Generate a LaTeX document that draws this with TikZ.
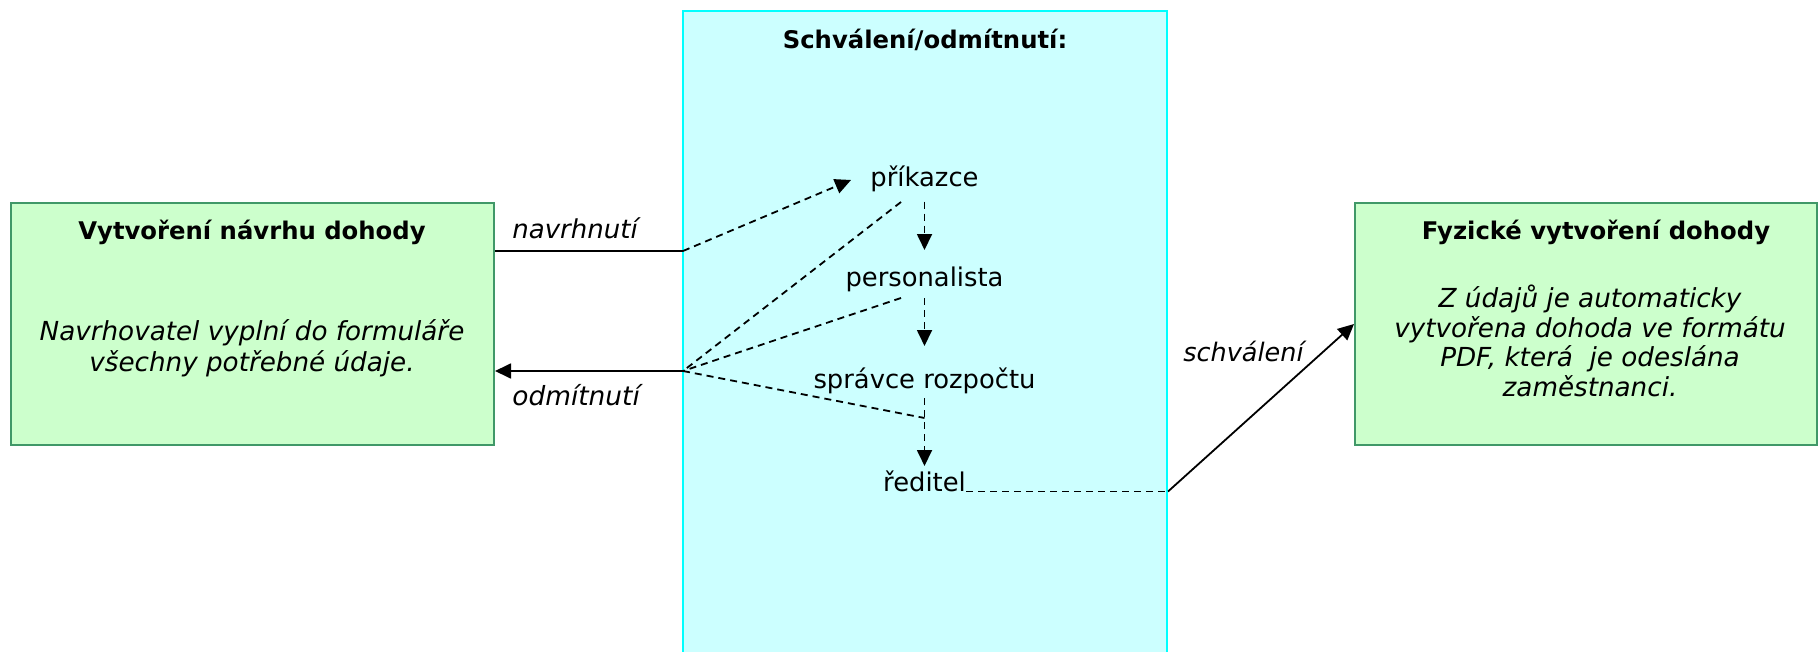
\documentclass[tikz,border=0pt]{standalone}
\usepackage{fontspec}
\setmainfont{DejaVu Sans}
\usetikzlibrary{arrows.meta}

\definecolor{svzelena}{RGB}{204,255,204}
\definecolor{okrajzel}{RGB}{64,152,104}
\definecolor{svazur}{RGB}{204,255,255}
\definecolor{okrajazur}{RGB}{0,255,255}

\tikzset{
	krabice/.style={draw=okrajzel,fill=svzelena,line width=1pt,inner sep=0pt,minimum height=121pt},
	nadpis/.style={inner sep=0pt,anchor=base,font=\bfseries\fontsize{12.15}{14}\selectfont},
	popis/.style={inner sep=0pt,align=center,font=\itshape\fontsize{13.1}{#1}\selectfont},
	role/.style={inner sep=0pt,anchor=base,font=\fontsize{12.9}{15}\selectfont},
	stitek/.style={inner sep=0pt,anchor=base west,font=\itshape\fontsize{#1}{16}\selectfont},
	hrot/.style={-{Triangle[length=8pt,width=7.5pt]}},
	carka/.style={dash pattern=on 3.5pt off 2.5pt},
	spoj/.style={line width=0.9pt}
}

\begin{document}
\begin{tikzpicture}[x=0.5pt,y=-0.5pt]
	\useasboundingbox (0,0) rectangle (1818,652);
	
	%Pole schvalovani
	\node[draw=okrajazur,fill=svazur,line width=1pt,minimum width=242pt,minimum height=325pt] (pole) at (925,336) {};
	\node[nadpis] (schv) at (925,48.5) {Schválení/odmítnutí:};
	
	%Krabice vlevo a vpravo
	\node[krabice,minimum width=241.5pt] (navrh) at (252.5,324) {};
	\node[krabice,minimum width=231pt] (fyz) at (1586,324) {};
	\node[nadpis] (navrhT) at (252,240) {Vytvoření návrhu dohody};
	\node[popis=15.35pt] (navrhP) at (252,348) {Navrhovatel vyplní do formuláře\\všechny potřebné údaje.};
	\node[nadpis] (fyzT) at (1596,240) {Fyzické vytvoření dohody};
	\node[popis=14.9pt] (fyzP) at (1590,341) {Z údajů je automaticky\\vytvořena dohoda ve formátu\\PDF, která\ \ je odeslána\\zaměstnanci.};
	
	%Role
	\node[role] (prik) at (924.5,186.7) {příkazce};
	\node[role] (pers) at (924.5,286) {personalista};
	\node[role] (sprav) at (924.5,388.3) {správce rozpočtu};
	\node[role] (red) at (924.5,491.5) {ředitel};
	
	%Body lomu
	\coordinate (ohyb) at (683,251);
	\coordinate (vetev) at (683,371);
	\coordinate (cil) at (851,180);
	\coordinate (k1) at (901,202);
	\coordinate (k2) at (901,298);
	\coordinate (k3) at (924.5,418);
	\coordinate (lom) at (pole.east |- red.base);
	
	%Navrhnuti
	\draw[spoj] (navrh.east |- ohyb) -- (ohyb);
	\draw[spoj,carka,hrot] (ohyb) -- (cil);
	\node[stitek=13pt] (lnav) at (512,238) {navrhnutí};
	
	%Postup schvalovani
	\draw[spoj,carka,hrot,shorten <=7.5pt,shorten >=18pt] (prik.base) -- (pers.base);
	\draw[spoj,carka,hrot,shorten <=6pt,shorten >=21.15pt] (pers.base) -- (sprav.base);
	\draw[spoj,carka,hrot,shorten <=4.85pt,shorten >=12.75pt] (sprav.base) -- (red.base);
	
	%Odmitnuti
	\draw[spoj,carka] (k1) -- (vetev);
	\draw[spoj,carka] (k2) -- (vetev);
	\draw[spoj,carka] (vetev) -- (k3);
	\draw[spoj,hrot] (vetev) -- (navrh.east |- vetev);
	\node[stitek=13.2pt] (lodm) at (512,405) {odmítnutí};
	
	%Schvaleni
	\draw[spoj,carka] (red.base east) -- (lom);
	\draw[spoj,hrot] (lom) -- (fyz.west);
	\node[stitek=12.75pt] (lschv) at (1183,361.5) {schválení};
\end{tikzpicture}
\end{document}
